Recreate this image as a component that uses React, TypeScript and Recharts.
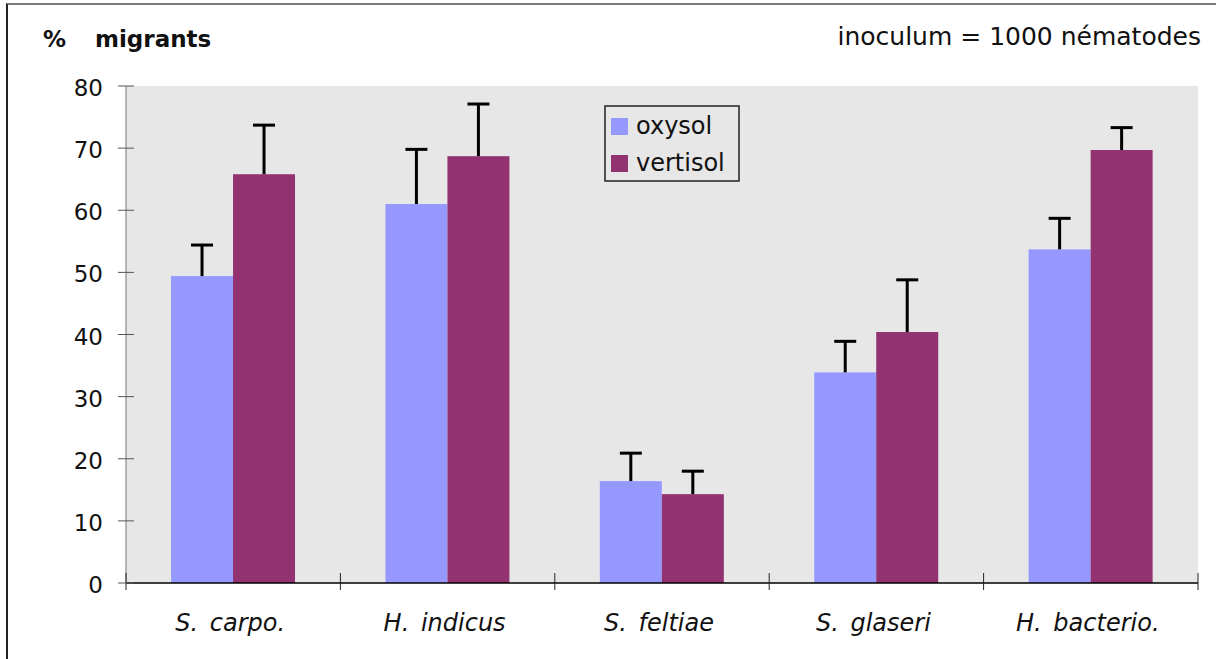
import React from 'react';
import { BarChart, Bar, XAxis, YAxis, CartesianGrid, Legend } from 'recharts';

const categories = ['S. carpo.', 'H. indicus', 'S. feltiae', 'S. glaseri', 'H. bacterio.'];
const oxysol = [49.4, 61.0, 16.4, 33.9, 53.7];
const oxysolErr = [5.0, 8.8, 4.5, 5.0, 5.0];
const vertisol = [65.8, 68.7, 14.3, 40.4, 69.7];
const vertisolErr = [7.9, 8.4, 3.7, 8.4, 3.6];
const yTicks = [0, 10, 20, 30, 40, 50, 60, 70, 80];

const seriesColors = { oxysol: '#9599ff', vertisol: '#923270' };

const data = categories.map((name, i) => ({
  name,
  oxysol: oxysol[i],
  oxysolErr: oxysolErr[i],
  vertisol: vertisol[i],
  vertisolErr: vertisolErr[i],
}));

const FONT = '"DejaVu Sans", sans-serif';

// bar + upward-only error whisker, scaled from the bar's own height
const barWithError = (errKey: 'oxysolErr' | 'vertisolErr') => (props: any) => {
  const { x, y, width, height, payload, value, fill } = props;
  const v = Array.isArray(value) ? value[1] - value[0] : value;
  const pxPerUnit = v ? height / v : 0;
  const top = y - payload[errKey] * pxPerUnit;
  const cx = x + width / 2;
  return (
    <g>
      <rect x={x} y={y} width={width} height={height} fill={fill} />
      <line x1={cx} x2={cx} y1={y} y2={top} stroke="#000" strokeWidth={3} />
      <line x1={cx - 11} x2={cx + 11} y1={top} y2={top} stroke="#000" strokeWidth={3} />
    </g>
  );
};

const YTick = (props: any) => {
  const { x, y, payload } = props;
  return (
    <g>
      <line x1={x - 8} x2={x + 8} y1={y} y2={y} stroke="#555" strokeWidth={1} />
      <text x={x - 23} y={y + 10} textAnchor="end" fontFamily={FONT} fontSize={23} fill="#111">
        {payload.value}
      </text>
    </g>
  );
};

const XTick = (props: any) => {
  const { x, y, payload, index, visibleTicksCount } = props;
  const off = payload.offset ?? 107.2;
  const last = index === (visibleTicksCount ?? categories.length) - 1;
  return (
    <g>
      <line x1={x - off} x2={x - off} y1={y - 10} y2={y + 7} stroke="#222" strokeWidth={1} />
      {last && <line x1={x + off} x2={x + off} y1={y - 10} y2={y + 7} stroke="#222" strokeWidth={1} />}
      <text
        x={x - 3}
        y={y + 48}
        textAnchor="middle"
        fontFamily={FONT}
        fontStyle="italic"
        fontSize={24}
        fill="#111"
        style={{ wordSpacing: 4 }}
      >
        {payload.value}
      </text>
    </g>
  );
};

const LegendBox = ({ payload }: any) => (
  <svg width={136} height={77} style={{ display: 'block' }}>
    <rect x={1} y={1} width={134} height={75} fill="#e7e7e7" stroke="#222" strokeWidth={1.5} />
    {(payload || []).map((item: any, i: number) => (
      <g key={item.value}>
        <rect x={7} y={13 + i * 37} width={17} height={17} fill={item.color} />
        <text x={32} y={29 + i * 37} fontFamily={FONT} fontSize={24} fill="#111">
          {item.value}
        </text>
      </g>
    ))}
  </svg>
);

export default function App() {
  return (
    <div style={{ position: 'absolute', left: 0, top: 0, width: 1216, height: 659, background: '#fff' }}>
      <div
        style={{
          position: 'absolute',
          left: 6,
          top: 3,
          right: 0,
          bottom: 0,
          borderTop: '2px solid #7a7a7a',
          borderLeft: '2px solid #222',
        }}
      />
      <BarChart
        width={1216}
        height={659}
        data={data}
        margin={{ top: 86, right: 18, bottom: 0, left: 0 }}
        barCategoryGap="21%"
        barGap={0}
      >
        <CartesianGrid fill="#e7e7e7" horizontal={false} vertical={false} />
        <XAxis
          dataKey="name"
          height={76}
          tickSize={0}
          tickMargin={0}
          tickLine={false}
          axisLine={{ stroke: '#000', strokeWidth: 1.5 }}
          interval={0}
          tick={<XTick />}
        />
        <YAxis
          type="number"
          domain={[0, 80]}
          ticks={yTicks}
          interval={0}
          width={126}
          tickSize={0}
          tickMargin={0}
          tickLine={false}
          axisLine={{ stroke: '#777', strokeWidth: 1 }}
          tick={<YTick />}
        />
        <Legend
          layout="horizontal"
          verticalAlign="middle"
          align="center"
          content={<LegendBox />}
          wrapperStyle={{ left: 604, top: 105, width: 136, height: 77 }}
        />
        <Bar
          dataKey="oxysol"
          name="oxysol"
          fill={seriesColors.oxysol}
          isAnimationActive={false}
          shape={barWithError('oxysolErr')}
        />
        <Bar
          dataKey="vertisol"
          name="vertisol"
          fill={seriesColors.vertisol}
          isAnimationActive={false}
          shape={barWithError('vertisolErr')}
        />
      </BarChart>
      <svg
        width={1216}
        height={659}
        style={{ position: 'absolute', left: 0, top: 0, pointerEvents: 'none' }}
      >
        <text x={43} y={47} fontFamily={FONT} fontWeight="bold" fontSize={23} fill="#111">%</text>
        <text x={95} y={47} fontFamily={FONT} fontWeight="bold" fontSize={23} fill="#111">migrants</text>
        <text x={1201} y={45} textAnchor="end" fontFamily={FONT} fontSize={25} fill="#111">
          inoculum = 1000 nématodes
        </text>
      </svg>
    </div>
  );
}
